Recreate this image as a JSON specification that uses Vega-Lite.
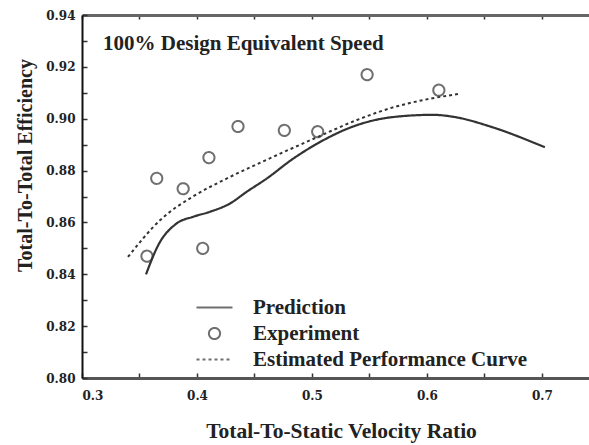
{
  "$schema": "https://vega.github.io/schema/vega-lite/v6.json",
  "width": 507,
  "height": 363,
  "autosize": "none",
  "padding": {"left": 82, "top": 15, "right": 0, "bottom": 67},
  "background": "white",
  "title": {"text": "100% Design Equivalent Speed", "anchor": "start", "frame": "group", "offset": -45, "dx": 21, "font": "Liberation Serif", "fontSize": 21, "fontWeight": "bold", "color": "#222"},
  "config": {"view": {"stroke": null}, "font": "Liberation Serif"},
  "datasets": {
    "pred": [
      {"x": 0.3557, "y": 0.8400, "series": "Prediction"},
      {"x": 0.3664, "y": 0.8513, "series": "Prediction"},
      {"x": 0.3823, "y": 0.8596, "series": "Prediction"},
      {"x": 0.3968, "y": 0.8622, "series": "Prediction"},
      {"x": 0.4113, "y": 0.8641, "series": "Prediction"},
      {"x": 0.4287, "y": 0.8673, "series": "Prediction"},
      {"x": 0.4432, "y": 0.8718, "series": "Prediction"},
      {"x": 0.4606, "y": 0.8769, "series": "Prediction"},
      {"x": 0.4837, "y": 0.8846, "series": "Prediction"},
      {"x": 0.5050, "y": 0.8905, "series": "Prediction"},
      {"x": 0.5390, "y": 0.8975, "series": "Prediction"},
      {"x": 0.5680, "y": 0.9005, "series": "Prediction"},
      {"x": 0.6050, "y": 0.9015, "series": "Prediction"},
      {"x": 0.6260, "y": 0.9005, "series": "Prediction"},
      {"x": 0.6550, "y": 0.8970, "series": "Prediction"},
      {"x": 0.7026, "y": 0.8890, "series": "Prediction"}
    ],
    "est": [
      {"x": 0.3400, "y": 0.8467, "series": "Estimated Performance Curve"},
      {"x": 0.3680, "y": 0.8609, "series": "Estimated Performance Curve"},
      {"x": 0.3965, "y": 0.8700, "series": "Estimated Performance Curve"},
      {"x": 0.4258, "y": 0.8769, "series": "Estimated Performance Curve"},
      {"x": 0.4693, "y": 0.8859, "series": "Estimated Performance Curve"},
      {"x": 0.5052, "y": 0.8930, "series": "Estimated Performance Curve"},
      {"x": 0.5391, "y": 0.8995, "series": "Estimated Performance Curve"},
      {"x": 0.5678, "y": 0.9040, "series": "Estimated Performance Curve"},
      {"x": 0.6026, "y": 0.9077, "series": "Estimated Performance Curve"},
      {"x": 0.6287, "y": 0.9096, "series": "Estimated Performance Curve"}
    ],
    "exp": [
      {"x": 0.3565, "y": 0.847, "series": "Experiment"},
      {"x": 0.3650, "y": 0.877, "series": "Experiment"},
      {"x": 0.3880, "y": 0.873, "series": "Experiment"},
      {"x": 0.4104, "y": 0.885, "series": "Experiment"},
      {"x": 0.4050, "y": 0.850, "series": "Experiment"},
      {"x": 0.4357, "y": 0.897, "series": "Experiment"},
      {"x": 0.4760, "y": 0.8955, "series": "Experiment"},
      {"x": 0.5050, "y": 0.895, "series": "Experiment"},
      {"x": 0.5480, "y": 0.917, "series": "Experiment"},
      {"x": 0.6104, "y": 0.911, "series": "Experiment"}
    ]
  },
  "encoding": {
    "y": {
      "field": "y", "type": "quantitative",
      "scale": {"domain": [0.80, 0.94], "zero": false, "nice": false},
      "axis": {
        "title": "Total-To-Total Efficiency",
        "values": [0.80, 0.81, 0.82, 0.83, 0.84, 0.85, 0.86, 0.87, 0.88, 0.89, 0.90, 0.91, 0.92, 0.93, 0.94],
        "labelExpr": "round(datum.value*100)%2==0 ? format(datum.value,'.2f') : ''",
        "grid": false,
        "domainColor": "#111", "domainWidth": 2,
        "tickColor": "#333", "tickWidth": 1.5, "tickSize": -5,
        "labelPadding": 12,
        "labelFont": "DejaVu Serif", "labelFontSize": 12, "labelFontWeight": "bold", "labelColor": "#222",
        "titleFont": "Liberation Serif", "titleFontSize": 20, "titleFontWeight": "bold", "titleColor": "#222",
        "titlePadding": 10, "titleY": 150
      }
    },
    "color": {
      "field": "series", "type": "nominal",
      "scale": {"domain": ["Prediction", "Experiment", "Estimated Performance Curve"], "range": ["#333", "#333", "#333"]},
      "legend": {
        "title": null, "orient": "none", "legendX": 122, "legendY": 282,
        "symbolSize": 324, "symbolStrokeWidth": 2, "rowPadding": 4, "labelOffset": 28, "padding": 0, "labelLimit": 400,
        "labelFont": "Liberation Serif", "labelFontSize": 21, "labelFontWeight": "bold", "labelColor": "#222"
      }
    },
    "strokeDash": {
      "field": "series", "type": "nominal",
      "scale": {"domain": ["Prediction", "Experiment", "Estimated Performance Curve"], "range": [[1, 0], [1, 0], [3, 3]]},
      "legend": {
        "title": null, "orient": "none", "legendX": 122, "legendY": 282,
        "symbolSize": 324, "symbolStrokeWidth": 2, "rowPadding": 4, "labelOffset": 28, "padding": 0, "labelLimit": 400,
        "labelFont": "Liberation Serif", "labelFontSize": 21, "labelFontWeight": "bold", "labelColor": "#222"
      }
    }
  },
  "resolve": {"axis": {"x": "independent"}},
  "layer": [
    {
      "data": {"name": "pred"},
      "mark": {"type": "line", "interpolate": "monotone", "strokeWidth": 2.2},
      "encoding": {
        "x": {
          "field": "x", "type": "quantitative",
          "scale": {"domain": [0.3, 0.741], "zero": false, "nice": false},
          "axis": {
            "orient": "bottom",
            "title": "Total-To-Static Velocity Ratio",
            "values": [0.3, 0.35, 0.4, 0.45, 0.5, 0.55, 0.6, 0.65, 0.7],
            "labelExpr": "round(datum.value*100)%10==0 ? format(datum.value,'.1f') : ''",
            "grid": false,
            "domainColor": "#555", "domainWidth": 3,
            "tickColor": "#333", "tickWidth": 1.5, "tickSize": -5,
            "labelPadding": 17,
            "labelFont": "DejaVu Serif", "labelFontSize": 12, "labelFontWeight": "bold", "labelColor": "#222",
            "titleFont": "Liberation Serif", "titleFontSize": 21.5, "titleFontWeight": "bold", "titleColor": "#222",
            "titlePadding": 19, "titleX": 259
          }
        }
      }
    },
    {
      "data": {"name": "est"},
      "mark": {"type": "line", "interpolate": "monotone", "strokeWidth": 2},
      "encoding": {
        "x": {
          "field": "x", "type": "quantitative",
          "axis": {
            "orient": "top", "title": null, "labels": false, "grid": false,
            "values": [0.3, 0.35, 0.4, 0.45, 0.5, 0.55, 0.6, 0.65, 0.7],
            "domainColor": "#666", "domainWidth": 3,
            "tickColor": "#333", "tickWidth": 1.5, "tickSize": -4
          }
        }
      }
    },
    {
      "data": {"name": "exp"},
      "mark": {"type": "point", "filled": false, "size": 324, "strokeWidth": 2},
      "encoding": {
        "x": {"field": "x", "type": "quantitative", "axis": null},
        "shape": {
          "field": "series", "type": "nominal",
          "scale": {"domain": ["Prediction", "Experiment", "Estimated Performance Curve"], "range": ["M-2,0L2,0", "M0.62,0A0.62,0.62,0,1,1,-0.62,0A0.62,0.62,0,1,1,0.62,0Z", "M-2,0L2,0"]},
          "legend": {
            "title": null, "orient": "none", "legendX": 122, "legendY": 282,
            "symbolSize": 324, "symbolStrokeWidth": 2, "rowPadding": 4, "labelOffset": 28, "padding": 0, "labelLimit": 400,
            "labelFont": "Liberation Serif", "labelFontSize": 21, "labelFontWeight": "bold", "labelColor": "#222"
          }
        }
      }
    }
  ]
}
